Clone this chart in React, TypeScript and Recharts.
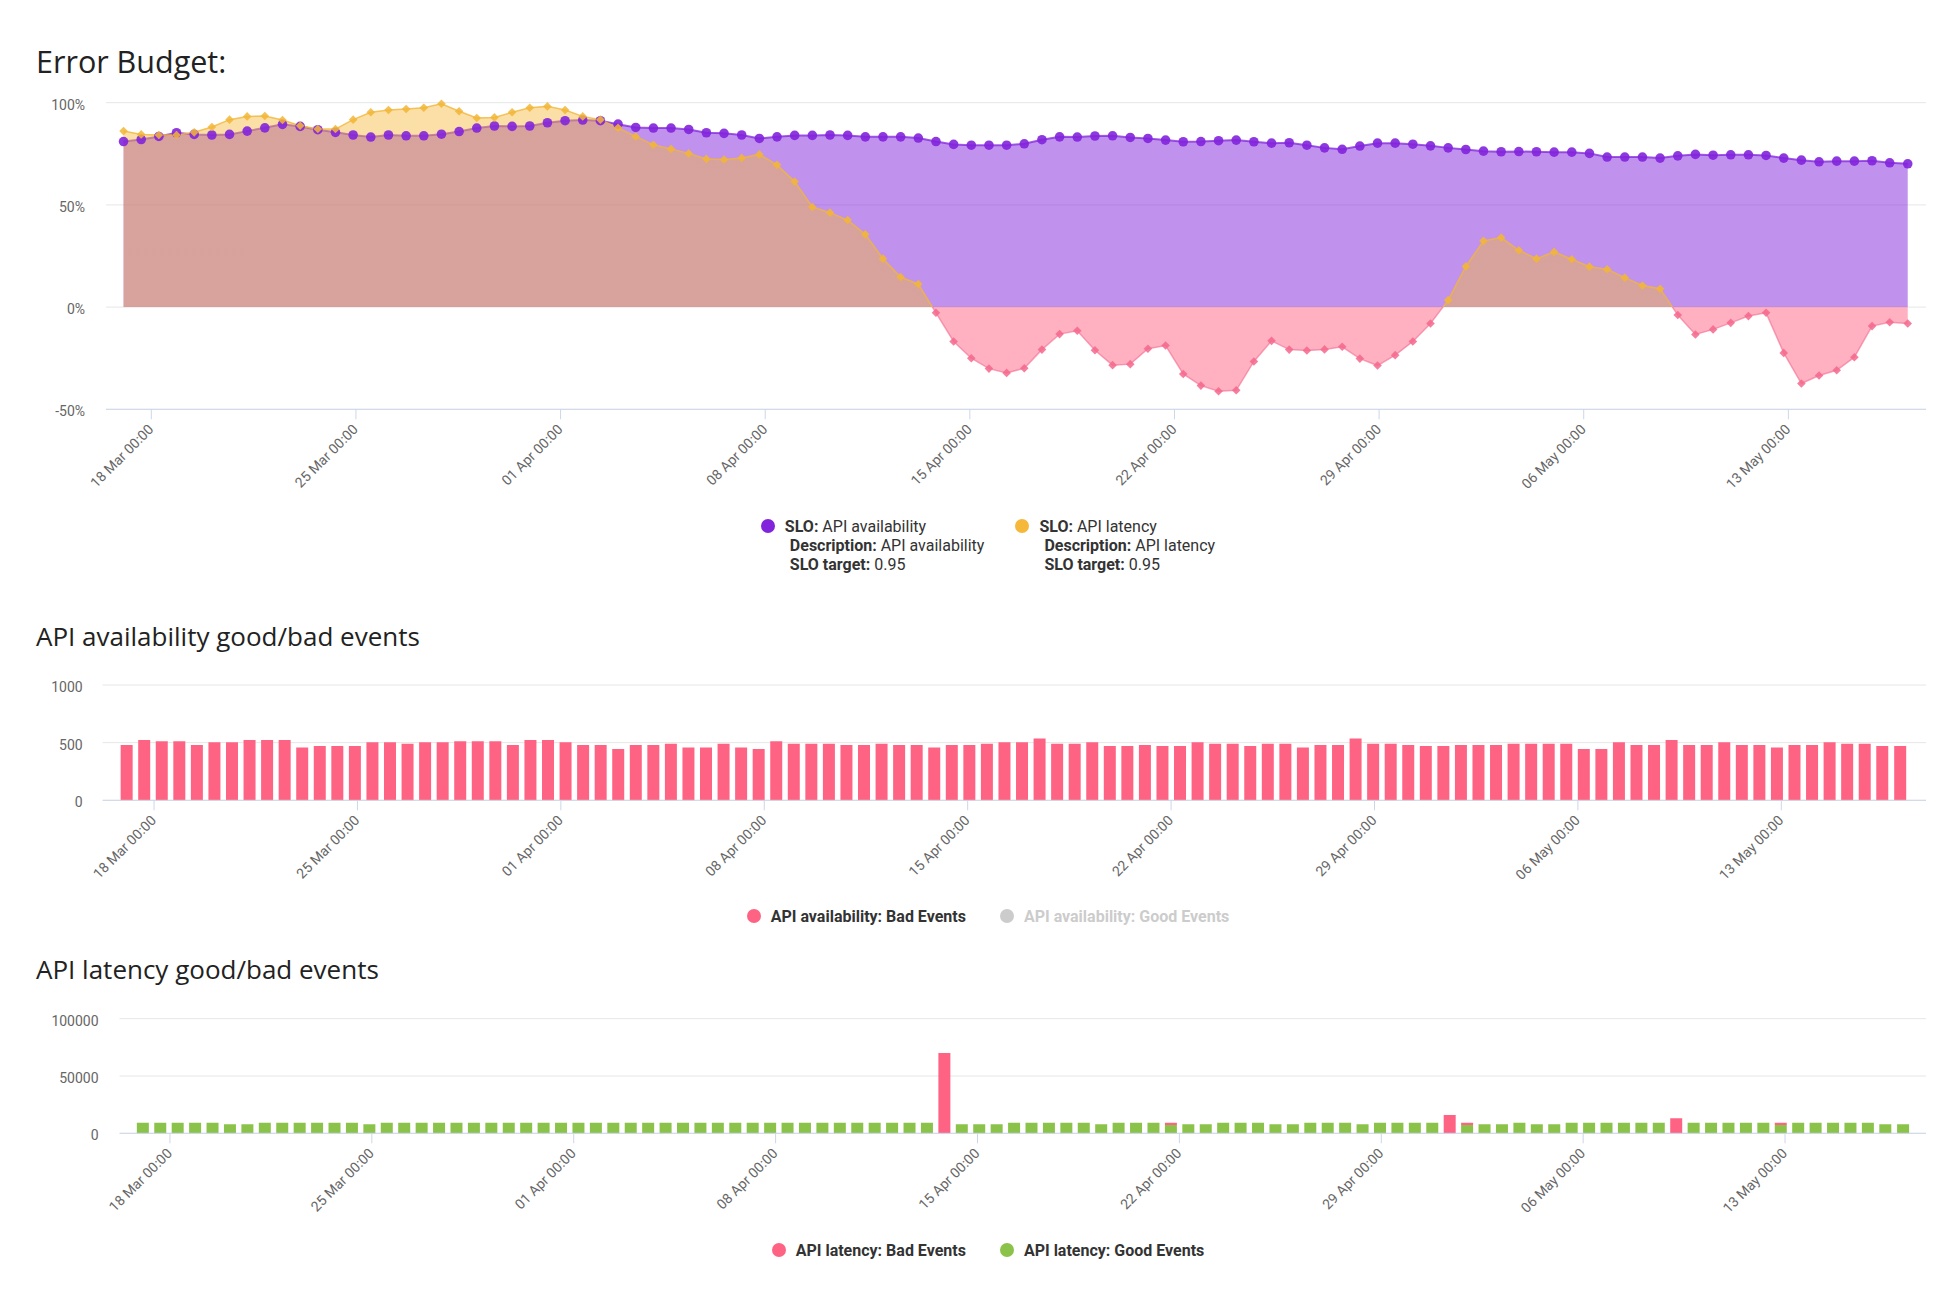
import React from 'react';
import { AreaChart, Area, BarChart, Bar, XAxis, YAxis, CartesianGrid, Legend } from 'recharts';

// ---------- data ----------
const TICK_HOURS = [0, 168, 336, 504, 672, 840, 1008, 1176, 1344];
const TICK_LABELS = [
  '18 Mar 00:00', '25 Mar 00:00', '01 Apr 00:00', '08 Apr 00:00', '15 Apr 00:00',
  '22 Apr 00:00', '29 Apr 00:00', '06 May 00:00', '13 May 00:00',
];

// error budget remaining (%)
const AVAILABILITY_BUDGET = [
  81.0, 82.0, 83.5, 85.3, 84.5, 84.2, 84.5, 86.1, 87.7, 89.4,
  88.4, 86.8, 85.5, 84.2, 83.2, 84.2, 83.8, 83.8, 84.6, 85.9,
  87.6, 88.6, 88.4, 88.6, 90.2, 91.2, 91.5, 91.2, 89.5, 87.9,
  87.6, 87.6, 86.9, 85.3, 85.0, 84.2, 82.5, 83.3, 84.0, 84.0,
  84.2, 84.0, 83.3, 83.3, 83.3, 82.7, 81.0, 79.6, 79.2, 79.2,
  79.2, 79.9, 81.9, 83.3, 83.2, 83.7, 83.8, 83.0, 82.5, 81.7,
  80.9, 81.0, 81.4, 81.7, 80.9, 80.2, 80.4, 79.2, 77.9, 77.2,
  78.8, 80.2, 80.2, 79.7, 78.9, 77.9, 77.1, 76.3, 76.0, 76.1,
  76.0, 75.8, 75.8, 75.2, 73.4, 73.4, 73.4, 72.9, 74.0, 74.7,
  74.3, 74.5, 74.5, 74.2, 72.9, 71.9, 71.1, 71.4, 71.4, 71.6,
  70.6, 70.1,
];
const LATENCY_BUDGET = [
  86.1, 84.5, 84.2, 84.2, 85.5, 88.1, 91.7, 93.3, 93.5, 91.5,
  88.7, 87.1, 87.1, 91.7, 95.3, 96.4, 96.9, 97.5, 99.5, 95.8,
  92.5, 92.8, 95.3, 97.5, 98.2, 96.4, 93.3, 91.7, 87.7, 83.5,
  79.4, 77.4, 75.2, 72.5, 72.2, 73.0, 74.7, 69.6, 61.4, 49.0,
  46.2, 42.6, 35.6, 23.7, 14.7, 11.3, -2.8, -16.8, -25.0, -30.1,
  -32.2, -29.9, -20.8, -13.2, -11.6, -21.1, -28.4, -27.9, -20.4, -18.8,
  -32.7, -38.4, -41.2, -40.7, -26.6, -16.5, -20.8, -21.2, -20.7, -19.4,
  -25.2, -28.6, -23.5, -16.8, -8.0, 3.4, 19.9, 32.4, 34.0, 27.8,
  23.7, 27.0, 23.4, 19.8, 18.5, 14.4, 10.6, 9.0, -3.9, -13.4,
  -10.9, -7.7, -4.4, -2.8, -22.4, -37.4, -33.5, -30.9, -24.5, -9.3,
  -7.4, -8.0,
];

// API availability bad events
const AVAILABILITY_BAD = [
  479, 523, 512, 512, 479, 503, 503, 523, 523, 523,
  459, 470, 470, 470, 503, 503, 491, 503, 503, 512,
  512, 512, 479, 523, 523, 503, 479, 479, 444, 479,
  479, 491, 459, 459, 491, 459, 444, 512, 491, 491,
  491, 479, 479, 491, 479, 479, 459, 479, 479, 491,
  503, 503, 535, 491, 491, 503, 470, 470, 479, 470,
  470, 503, 491, 491, 470, 491, 491, 459, 479, 479,
  535, 491, 491, 479, 470, 470, 479, 479, 479, 491,
  491, 491, 491, 444, 444, 503, 479, 479, 523, 479,
  479, 503, 479, 479, 459, 479, 479, 503, 491, 491,
  470, 470,
];

// API latency good / bad events
const LATENCY_GOOD = [
  9100, 9100, 9100, 9100, 9100, 7900, 7900, 9100, 9100, 9100,
  9100, 9100, 9100, 7900, 9100, 9100, 9100, 9100, 9100, 9100,
  9100, 9100, 9100, 9100, 9100, 9100, 9100, 9100, 9100, 9100,
  9100, 9100, 9100, 9100, 9100, 9100, 9100, 9100, 9100, 9100,
  9100, 9100, 9100, 9100, 9100, 9100, 0, 7900, 7900, 7900,
  9100, 9100, 9100, 9100, 9100, 7900, 9100, 9100, 9100, 7200,
  7900, 7900, 9100, 9100, 9100, 7900, 7900, 9100, 9100, 9100,
  7900, 9100, 9100, 9100, 9100, 0, 7200, 7900, 7900, 9100,
  7900, 7900, 9100, 9100, 9100, 9100, 9100, 9100, 0, 9100,
  9100, 9100, 9100, 9100, 7200, 9100, 9100, 9100, 9100, 9100,
  7900, 7900,
];
const LATENCY_BAD = [
  0, 0, 0, 0, 0, 0, 0, 0, 0, 0,
  0, 0, 0, 0, 0, 0, 0, 0, 0, 0,
  0, 0, 0, 0, 0, 0, 0, 0, 0, 0,
  0, 0, 0, 0, 0, 0, 0, 0, 0, 0,
  0, 0, 0, 0, 0, 0, 70000, 0, 0, 0,
  0, 0, 0, 0, 0, 0, 0, 0, 0, 2000,
  0, 0, 0, 0, 0, 0, 0, 0, 0, 0,
  0, 0, 0, 0, 0, 15900, 2000, 0, 0, 0,
  0, 0, 0, 0, 0, 0, 0, 0, 13200, 0,
  0, 0, 0, 0, 2000, 0, 0, 0, 0, 0,
  0, 0,
];

// sample times, hours relative to 18 Mar 00:00 (regular 14.5 h grid, last sample earlier)
const FIRST_HOUR = -22.8;
const STEP_HOURS = 14.5;
const LAST_HOUR = 1442;
const HOURS = AVAILABILITY_BUDGET.map((_, i) =>
  i === AVAILABILITY_BUDGET.length - 1 ? LAST_HOUR : FIRST_HOUR + i * STEP_HOURS
);

const SLO_DETAILS: Record<string, { slo: string; description: string; target: string }> = {
  availability: { slo: 'API availability', description: 'API availability', target: '0.95' },
  latency: { slo: 'API latency', description: 'API latency', target: '0.95' },
};

const budgetData = HOURS.map((h, i) => ({
  h,
  availability: AVAILABILITY_BUDGET[i],
  latency: LATENCY_BUDGET[i],
}));
const availabilityEvents = HOURS.map((h, i) => ({ h, bad: AVAILABILITY_BAD[i] }));
const latencyEvents = HOURS.map((h, i) => ({ h, good: LATENCY_GOOD[i], bad: LATENCY_BAD[i] }));

// ---------- styles ----------
const PURPLE = '#8224DC';
const YELLOW = '#F5B83A';
const PINK = '#FF6384';
const GREEN = '#8BC34A';
const AXIS_COLOR = '#CCD6EB';
const GRID_COLOR = '#E6E6E6';
const LABEL_COLOR = '#666666';
const INACTIVE = '#CCCCCC';
const FONT = 'Roboto, sans-serif';
const TITLE_FONT = "'Open Sans', sans-serif";

const SERIES_COLOR: Record<string, string> = {
  availability: PURPLE,
  latency: YELLOW,
};

const latMax = Math.max(...LATENCY_BUDGET);
const latMin = Math.min(...LATENCY_BUDGET);
const zeroOffset = latMax / (latMax - latMin);

function DateTick(props: any) {
  const { x, y, payload } = props;
  const idx = TICK_HOURS.indexOf(payload.value);
  return (
    <g transform={`translate(${x + 3},${y + 11})`}>
      <text
        textAnchor="end"
        transform="rotate(-45)"
        fill={LABEL_COLOR}
        fontSize={14}
        fontFamily={FONT}
      >
        {idx >= 0 ? TICK_LABELS[idx] : ''}
      </text>
    </g>
  );
}

function AvailabilityDot(props: any) {
  const { cx, cy, index } = props;
  if (cx == null || cy == null) return <g key={`a${index}`} />;
  return <circle key={`a${index}`} cx={cx} cy={cy} r={4.8} fill={PURPLE} fillOpacity={0.9} />;
}

function LatencyDot(props: any) {
  const { cx, cy, index, payload } = props;
  if (cx == null || cy == null) return <g key={`l${index}`} />;
  const r = 4.3;
  const color = payload.latency >= 0 ? '#F2B636' : '#F4678C';
  return (
    <path
      key={`l${index}`}
      d={`M${cx},${cy - r}L${cx + r},${cy}L${cx},${cy + r}L${cx - r},${cy}Z`}
      fill={color}
      fillOpacity={0.85}
    />
  );
}

function BudgetLegend(props: any) {
  const payload = props.payload || [];
  return (
    <div
      style={{
        display: 'flex',
        justifyContent: 'center',
        fontFamily: FONT,
        fontSize: 16,
        color: '#333333',
        lineHeight: '19px',
      }}
    >
      {payload.map((entry: any, i: number) => {
        const d = SLO_DETAILS[entry.dataKey];
        return (
          <div key={i} style={{ display: 'flex', alignItems: 'flex-start', marginLeft: i ? 31 : 0 }}>
            <span
              style={{
                width: 14,
                height: 14,
                borderRadius: 7,
                background: SERIES_COLOR[entry.dataKey],
                marginTop: 2,
                marginRight: 10,
                flex: 'none',
              }}
            />
            <div style={{ whiteSpace: 'nowrap' }}>
              <div>
                <b>SLO:</b> {d.slo}
              </div>
              <div style={{ paddingLeft: 5 }}>
                <b>Description:</b> {d.description}
              </div>
              <div style={{ paddingLeft: 5 }}>
                <b>SLO target:</b> {d.target}
              </div>
            </div>
          </div>
        );
      })}
    </div>
  );
}

function makeEventsLegend(order: string[]) {
  return function EventsLegend(props: any) {
    const payload = [...(props.payload || [])].sort(
      (a: any, b: any) => order.indexOf(a.value) - order.indexOf(b.value)
    );
    return (
      <div
        style={{
          display: 'flex',
          justifyContent: 'center',
          fontFamily: FONT,
          fontSize: 16,
          lineHeight: '19px',
          fontWeight: 700,
        }}
      >
        {payload.map((entry: any, i: number) => (
          <div key={i} style={{ display: 'flex', alignItems: 'flex-start', marginLeft: i ? 34 : 0 }}>
            <span
              style={{
                width: 14,
                height: 14,
                borderRadius: 7,
                background: entry.inactive ? INACTIVE : entry.color,
                marginTop: 2,
                marginRight: 10,
                flex: 'none',
              }}
            />
            <span style={{ color: entry.inactive ? INACTIVE : '#333333', whiteSpace: 'nowrap' }}>
              {entry.value}
            </span>
          </div>
        ))}
      </div>
    );
  };
}

const AVAILABILITY_LEGEND_ORDER = ['API availability: Bad Events', 'API availability: Good Events'];
const LATENCY_LEGEND_ORDER = ['API latency: Bad Events', 'API latency: Good Events'];
const AvailabilityLegend = makeEventsLegend(AVAILABILITY_LEGEND_ORDER);
const LatencyLegend = makeEventsLegend(LATENCY_LEGEND_ORDER);

const titleStyle = (top: number, size: number): React.CSSProperties => ({
  position: 'absolute',
  left: 36,
  top,
  fontFamily: TITLE_FONT,
  fontSize: size,
  lineHeight: `${size}px`,
  color: '#222222',
  whiteSpace: 'nowrap',
});

const yTick = { fill: LABEL_COLOR, fontSize: 14, fontFamily: FONT, dy: 2 };

export default function App() {
  return (
    <div
      style={{
        position: 'relative',
        width: 1960,
        height: 1296,
        overflow: 'hidden',
        background: '#ffffff',
      }}
    >
      <style>{'body{margin:0;}'}</style>

      <div style={titleStyle(45.6, 30.5)}>Error Budget:</div>
      <div style={{ position: 'absolute', left: 0, top: 0 }}>
        <AreaChart
          width={1960}
          height={600}
          data={budgetData}
          margin={{ top: 102.7, right: 34, bottom: 120.7, left: 0 }}
        >
          <defs>
            <linearGradient id="latFill" x1="0" y1="0" x2="0" y2="1">
              <stop offset={0} stopColor={YELLOW} stopOpacity={0.45} />
              <stop offset={zeroOffset} stopColor={YELLOW} stopOpacity={0.45} />
              <stop offset={zeroOffset} stopColor={PINK} stopOpacity={0.5} />
              <stop offset={1} stopColor={PINK} stopOpacity={0.5} />
            </linearGradient>
            <linearGradient id="latStroke" x1="0" y1="0" x2="0" y2="1">
              <stop offset={0} stopColor="#F2B636" stopOpacity={0.8} />
              <stop offset={zeroOffset} stopColor="#F2B636" stopOpacity={0.8} />
              <stop offset={zeroOffset} stopColor="#F4678C" stopOpacity={0.6} />
              <stop offset={1} stopColor="#F4678C" stopOpacity={0.6} />
            </linearGradient>
          </defs>
          <CartesianGrid vertical={false} stroke={GRID_COLOR} />
          <XAxis
            type="number"
            dataKey="h"
            domain={[-37.2, 1457]}
            allowDataOverflow
            ticks={TICK_HOURS}
            interval={0}
            tick={<DateTick />}
            tickSize={10}
            tickMargin={0}
            height={70}
            axisLine={{ stroke: AXIS_COLOR }}
            tickLine={{ stroke: AXIS_COLOR }}
          />
          <YAxis
            domain={[-50, 100]}
            ticks={[-50, 0, 50, 100]}
            interval={0}
            tickFormatter={(v: number) => `${v}%`}
            axisLine={false}
            tickLine={false}
            width={106}
            tickMargin={15}
            tick={yTick}
          />
          <Area
            type="linear"
            dataKey="availability"
            name="API availability"
            stroke={PURPLE}
            strokeWidth={2}
            strokeOpacity={0.75}
            fill={PURPLE}
            fillOpacity={0.5}
            dot={AvailabilityDot}
            activeDot={false}
            isAnimationActive={false}
          />
          <Area
            type="linear"
            dataKey="latency"
            name="API latency"
            stroke="url(#latStroke)"
            strokeWidth={1.5}
            fill="url(#latFill)"
            fillOpacity={1}
            dot={LatencyDot}
            activeDot={false}
            isAnimationActive={false}
          />
          <Legend
            layout="horizontal"
            verticalAlign="middle"
            align="center"
            wrapperStyle={{ left: 16, top: 517, width: 1944 }}
            content={<BudgetLegend />}
          />
        </AreaChart>
      </div>

      <div style={titleStyle(622.9, 26)}>API availability good/bad events</div>
      <div style={{ position: 'absolute', left: 0, top: 600 }}>
        <BarChart
          width={1960}
          height={340}
          data={availabilityEvents}
          margin={{ top: 85, right: 34, bottom: 69.7, left: 0 }}
        >
          <CartesianGrid vertical={false} stroke={GRID_COLOR} />
          <XAxis
            type="number"
            dataKey="h"
            domain={[-42.4, 1463.5]}
            allowDataOverflow
            ticks={TICK_HOURS}
            interval={0}
            tick={<DateTick />}
            tickSize={10}
            tickMargin={0}
            height={70}
            axisLine={{ stroke: AXIS_COLOR }}
            tickLine={{ stroke: AXIS_COLOR }}
          />
          <YAxis
            domain={[0, 1000]}
            ticks={[0, 500, 1000]}
            interval={0}
            axisLine={false}
            tickLine={false}
            width={102.7}
            tickMargin={14}
            tick={yTick}
          />
          <Bar
            dataKey="bad"
            name="API availability: Bad Events"
            stackId="avail"
            fill={PINK}
            barSize={12}
            isAnimationActive={false}
          />
          <Bar
            dataKey="good"
            name="API availability: Good Events"
            stackId="avail"
            fill="#9E9E9E"
            barSize={12}
            hide
            isAnimationActive={false}
          />
          <Legend
            layout="horizontal"
            verticalAlign="middle"
            align="center"
            wrapperStyle={{ left: 16, top: 306.7, width: 1944 }}
            content={<AvailabilityLegend />}
          />
        </BarChart>
      </div>

      <div style={titleStyle(956.2, 26)}>API latency good/bad events</div>
      <div style={{ position: 'absolute', left: 0, top: 940 }}>
        <BarChart
          width={1960}
          height={356}
          data={latencyEvents}
          margin={{ top: 78.7, right: 34, bottom: 92.7, left: 0 }}
        >
          <CartesianGrid vertical={false} stroke={GRID_COLOR} />
          <XAxis
            type="number"
            dataKey="h"
            domain={[-41.9, 1461.3]}
            allowDataOverflow
            ticks={TICK_HOURS}
            interval={0}
            tick={<DateTick />}
            tickSize={10}
            tickMargin={0}
            height={70}
            axisLine={{ stroke: AXIS_COLOR }}
            tickLine={{ stroke: AXIS_COLOR }}
          />
          <YAxis
            domain={[0, 100000]}
            ticks={[0, 50000, 100000]}
            interval={0}
            axisLine={false}
            tickLine={false}
            width={119.6}
            tickMargin={15}
            tick={yTick}
          />
          <Bar
            dataKey="good"
            name="API latency: Good Events"
            stackId="lat"
            fill={GREEN}
            barSize={12}
            isAnimationActive={false}
          />
          <Bar
            dataKey="bad"
            name="API latency: Bad Events"
            stackId="lat"
            fill={PINK}
            barSize={12}
            isAnimationActive={false}
          />
          <Legend
            layout="horizontal"
            verticalAlign="middle"
            align="center"
            wrapperStyle={{ left: 16, top: 301.4, width: 1944 }}
            content={<LatencyLegend />}
          />
        </BarChart>
      </div>
    </div>
  );
}
